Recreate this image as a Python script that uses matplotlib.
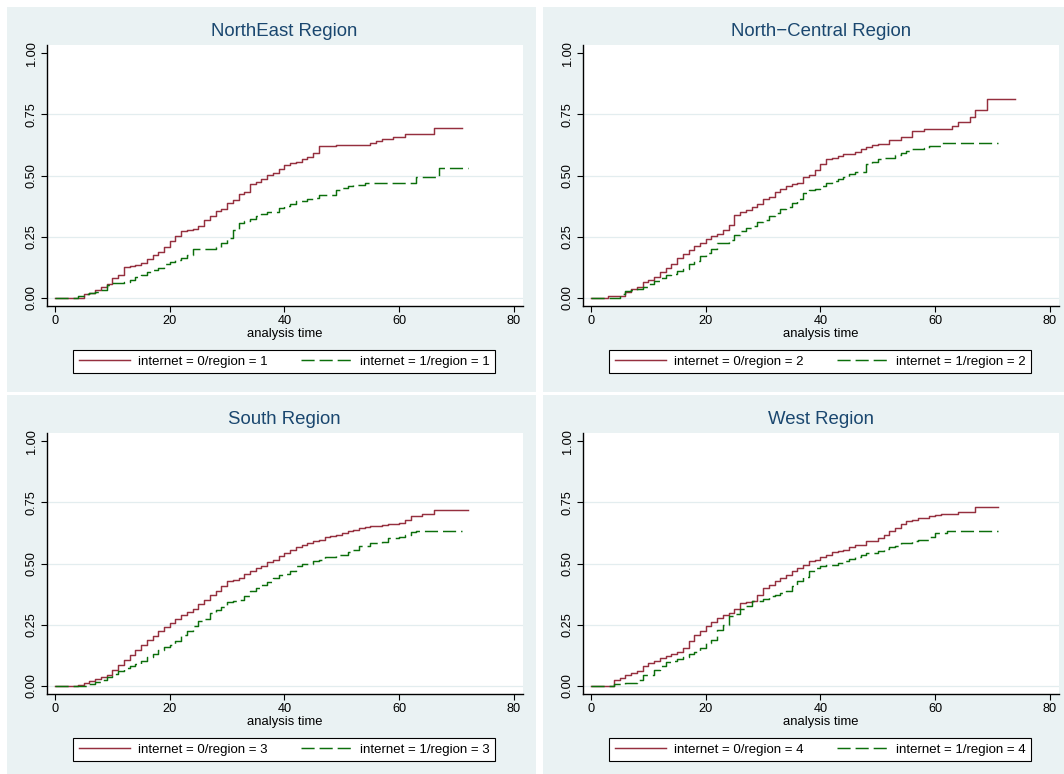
import matplotlib
matplotlib.use("Agg")
import matplotlib.pyplot as plt
from matplotlib.patches import Rectangle
from matplotlib.lines import Line2D

plt.rcParams["font.family"] = ["Liberation Sans", "DejaVu Sans"]

W, H = 1064, 774
BG = "#eaf2f3"
COL0 = "#952f3e"
COL1 = "#0b6e0b"
TITLE_COL = "#1a476f"
GRID_COL = "#e3edef"

TITLES = ["NorthEast Region", "North\u2212Central Region", "South Region", "West Region"]
REGION_CODES = [1, 2, 3, 4]

# failure estimates (step changes at these times)
ne0_t = [0, 5, 6, 7, 8, 9, 10, 11, 12, 13, 14, 15, 16, 17, 18, 19, 20, 21, 22, 23, 24, 25,
         26, 27, 28, 29, 30, 31, 32, 33, 34, 35, 36, 37, 38, 39, 40, 41, 42, 43, 44, 45, 46,
         49, 55, 56, 57, 59, 61, 66]
ne0_v = [0, .014, .02, .03, .044, .057, .082, .094, .126, .131, .135, .142, .16, .176, .186,
         .208, .23, .254, .273, .279, .283, .292, .316, .333, .354, .365, .388, .399, .423,
         .433, .467, .473, .485, .503, .512, .527, .541, .552, .556, .566, .577, .593, .622,
         .624, .631, .642, .65, .658, .668, .693]
ne0_end = 71

ne1_t = [0, 4, 5, 6, 7, 8, 9, 10, 11, 12, 13, 14, 15, 16, 17, 18, 19, 20, 21, 22, 23, 24,
         28, 29, 30, 31, 32, 33, 34, 35, 36, 37, 39, 40, 41, 42, 44, 45, 46, 49, 50, 51, 52,
         54, 63, 67]
ne1_v = [0, .008, .014, .02, .023, .03, .053, .06, .062, .066, .071, .085, .093, .107, .112,
         .122, .139, .146, .156, .164, .173, .198, .208, .224, .246, .276, .306, .314, .324,
         .333, .344, .351, .366, .376, .385, .395, .403, .407, .419, .44, .447, .456, .463,
         .47, .492, .531]
ne1_end = 72

nc0_t = [0, 3, 6, 7, 8, 9, 10, 11, 12, 13, 14, 15, 16, 17, 18, 19, 20, 21, 22, 23, 24, 25,
         26, 27, 28, 29, 30, 31, 32, 33, 34, 35, 36, 37, 38, 39, 40, 41, 42, 43, 44, 46, 47,
         48, 49, 50, 52, 54, 56, 58, 63, 64, 66, 67, 69]
nc0_v = [0, .005, .023, .034, .044, .063, .074, .085, .105, .122, .137, .164, .18, .197, .21,
         .224, .242, .253, .26, .276, .296, .337, .351, .36, .372, .385, .403, .413, .433,
         .445, .456, .464, .471, .492, .504, .522, .546, .566, .572, .58, .586, .597, .607,
         .615, .626, .628, .645, .656, .683, .69, .702, .717, .738, .768, .814]
nc0_end = 74

nc1_t = [0, 5, 6, 7, 8, 9, 10, 11, 12, 13, 14, 15, 16, 17, 18, 19, 20, 21, 22, 24, 25, 26,
         27, 28, 29, 30, 31, 32, 33, 34, 35, 36, 37, 38, 39, 40, 41, 42, 43, 44, 45, 46, 48,
         49, 50, 51, 53, 54, 55, 56, 58, 59, 61]
nc1_v = [0, .016, .027, .03, .034, .044, .057, .068, .081, .092, .098, .108, .117, .139, .15,
         .169, .183, .201, .225, .238, .258, .272, .287, .292, .31, .32, .333, .347, .365,
         .372, .389, .403, .429, .44, .445, .459, .47, .478, .485, .492, .508, .515, .546,
         .556, .566, .57, .583, .593, .601, .607, .613, .622, .631]
nc1_end = 71

so0_t = [0, 4, 5, 6, 7, 8, 9, 10, 11, 12, 13, 14, 15, 16, 17, 18, 19, 20, 21, 22, 23, 24,
         25, 26, 27, 28, 29, 30, 31, 32, 33, 34, 35, 36, 37, 38, 39, 40, 41, 42, 43, 44, 45,
         46, 47, 48, 49, 50, 51, 52, 53, 54, 55, 57, 58, 60, 61, 62, 64, 66]
so0_v = [0, .004, .011, .02, .029, .037, .045, .065, .086, .106, .127, .147, .168, .188, .202,
         .222, .239, .256, .274, .29, .3, .315, .334, .352, .37, .386, .407, .427, .434, .44,
         .457, .471, .482, .491, .506, .516, .529, .542, .556, .568, .577, .584, .591, .598,
         .608, .614, .618, .625, .632, .638, .645, .649, .655, .659, .662, .666, .679, .693,
         .703, .718]
so0_end = 72

so1_t = [0, 6, 7, 8, 9, 10, 11, 12, 13, 14, 15, 16, 17, 18, 19, 20, 21, 22, 23, 24, 25, 26,
         27, 28, 29, 30, 31, 32, 33, 34, 35, 36, 37, 38, 39, 40, 41, 42, 43, 45, 46, 47, 49,
         51, 52, 53, 55, 57, 58, 60, 61, 62, 63]
so1_v = [0, .007, .015, .023, .035, .048, .061, .072, .079, .09, .102, .116, .131, .147, .16,
         .168, .181, .209, .225, .246, .263, .274, .297, .308, .321, .342, .345, .352, .368,
         .386, .4, .411, .424, .441, .454, .458, .471, .488, .498, .509, .516, .525, .536,
         .547, .554, .57, .584, .588, .604, .608, .618, .629, .632]
so1_end = 71

we0_t = [0, 4, 5, 6, 7, 8, 9, 10, 11, 12, 13, 14, 15, 16, 17, 18, 19, 20, 21, 22, 23, 24,
         25, 26, 27, 28, 29, 30, 31, 32, 33, 34, 35, 36, 37, 38, 39, 40, 41, 42, 43, 44, 45,
         46, 48, 50, 51, 52, 53, 54, 55, 56, 57, 59, 60, 61, 64, 67]
we0_v = [0, .025, .031, .042, .052, .061, .079, .093, .102, .113, .121, .13, .138, .154, .184,
         .209, .225, .243, .261, .277, .291, .297, .315, .338, .342, .348, .372, .4, .411,
         .427, .441, .454, .468, .482, .495, .509, .516, .525, .536, .547, .552, .557, .566,
         .574, .591, .604, .615, .632, .645, .662, .673, .679, .686, .693, .7, .703, .711, .731]
we0_end = 71

we1_t = [0, 4, 6, 8, 9, 11, 12, 13, 14, 15, 16, 17, 18, 19, 20, 21, 22, 23, 24, 25, 26, 27,
         28, 29, 30, 31, 32, 33, 34, 35, 36, 37, 38, 39, 40, 41, 42, 43, 44, 45, 46, 47, 48,
         50, 51, 52, 53, 54, 56, 57, 59, 60, 62]
we1_v = [0, .005, .01, .025, .042, .065, .08, .095, .102, .11, .116, .13, .138, .154, .175,
         .188, .229, .25, .284, .293, .314, .325, .345, .348, .355, .366, .372, .379, .389,
         .407, .427, .443, .468, .482, .488, .492, .495, .502, .512, .52, .528, .536, .543,
         .55, .559, .566, .57, .584, .591, .598, .608, .625, .634]
we1_end = 71

CURVES = [
    ((ne0_t, ne0_v, ne0_end), (ne1_t, ne1_v, ne1_end)),
    ((nc0_t, nc0_v, nc0_end), (nc1_t, nc1_v, nc1_end)),
    ((so0_t, so0_v, so0_end), (so1_t, so1_v, so1_end)),
    ((we0_t, we0_v, we0_end), (we1_t, we1_v, we1_end)),
]

X_TICKS = [0, 20, 40, 60, 80]
Y_TICKS = [0, 0.25, 0.5, 0.75, 1.0]
Y_TICK_LABELS = ["0.00", "0.25", "0.50", "0.75", "1.00"]
GRID_AT = [0, 0.25, 0.5, 0.75]

# top-left corner of every panel, in pixels
CORNERS = [(7, 7), (543, 7), (7, 395), (543, 395)]
PANEL_W, PANEL_H = 529, 385


def fx(px):
    return px / W


def fy(py):
    return 1 - py / H


def draw_panel(fig, corner, title, code, curves):
    px, py = corner
    fig.patches.append(Rectangle((fx(px), fy(py + PANEL_H)), PANEL_W / W, PANEL_H / H,
                                 transform=fig.transFigure, facecolor=BG,
                                 edgecolor="none", zorder=-10))
    ax = fig.add_axes([fx(px + 39.7), fy(py + 298.7), 475.9 / W, 260.7 / H])
    ax.set_zorder(2)
    ax.set_facecolor("white")

    for g in GRID_AT:
        ax.axhline(g, color=GRID_COL, lw=0.9, zorder=0.5)

    (t0, v0, e0), (t1, v1, e1) = curves
    ax.step(t0 + [e0], v0 + [v0[-1]], where="post", color=COL0, lw=1.05, zorder=3)
    ax.step(t1 + [e1], v1 + [v1[-1]], where="post", color=COL1, lw=1.05,
            ls=(0, (9.0, 3.4)), zorder=3)

    ax.set_xlim(-1.45, 81.53)
    ax.set_ylim(-0.0327, 1.034)
    ax.set_xticks(X_TICKS)
    ax.set_yticks(Y_TICKS)
    ax.set_yticklabels(Y_TICK_LABELS, rotation=90, va="center")
    ax.tick_params(direction="out", length=4.1, width=0.8, labelsize=9.2, pad=2.5,
                   colors="black")
    ax.set_xlabel("analysis time", fontsize=9.4, labelpad=1)

    for side in ["top", "right"]:
        ax.spines[side].set_visible(False)
    for side in ["left", "bottom"]:
        ax.spines[side].set_color("black")
        ax.spines[side].set_linewidth(1.0)

    fig.text(fx(px + 277.6), fy(py + 25), title, ha="center", va="center",
             fontsize=13.4, color=TITLE_COL)

    handles = [Line2D([], [], color=COL0, lw=1.05),
               Line2D([], [], color=COL1, lw=1.05, ls=(0, (9.0, 3.4)))]
    labels = [f"internet = 0/region = {code}", f"internet = 1/region = {code}"]
    leg = ax.legend(handles, labels, loc="center",
                    bbox_to_anchor=(fx(px + 277.4), fy(py + 354.5)),
                    bbox_transform=fig.transFigure, ncol=2, frameon=True,
                    fancybox=False, edgecolor="black", framealpha=1, fontsize=9.5,
                    handlelength=3.9, handletextpad=0.55, columnspacing=2.6,
                    borderpad=0.42)
    leg.get_frame().set_linewidth(0.8)


def main():
    fig = plt.figure(figsize=(W / 100, H / 100), dpi=100)
    fig.patch.set_facecolor("white")
    for corner, title, code, curves in zip(CORNERS, TITLES, REGION_CODES, CURVES):
        draw_panel(fig, corner, title, code, curves)
    fig.savefig("out.png", dpi=100)
    plt.close(fig)


if __name__ == "__main__":
    main()
